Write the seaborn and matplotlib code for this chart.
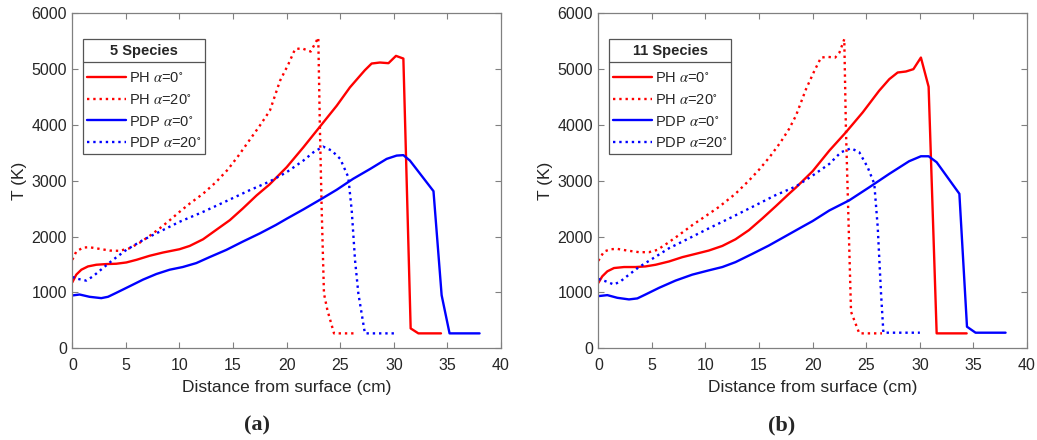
import matplotlib
matplotlib.use("Agg")
import matplotlib.pyplot as plt
import seaborn as sns
from matplotlib.lines import Line2D

# ---- panel (a): 5 species ----
a_ph0_x = [0, 0.37, 0.84, 1.46, 2.24, 3.17, 4.1, 5.04, 6.0, 7.2, 8.46, 10.0, 10.95, 12.2, 13.4,
           14.7, 15.9, 17.2, 18.4, 20.0, 21.56, 23.1, 24.67, 25.9, 26.84, 27.3, 27.93, 28.7,
           29.5, 30.2, 30.89, 31.57, 32.29, 34.4]
a_ph0_t = [1183, 1320, 1408, 1467, 1497, 1509, 1515, 1538, 1586, 1657, 1716, 1775, 1834, 1953, 2118,
           2296, 2503, 2740, 2935, 3244, 3601, 3970, 4345, 4673, 4881, 4982, 5101, 5119,
           5107, 5238, 5190, 357, 268, 268]

a_ph20_x = [0, 0.37, 1.0, 1.6, 2.55, 3.5, 4.4, 5.35, 6.3, 7.2, 8.15, 9.1, 10.0, 10.95, 12.2, 13.4,
            14.5, 15.5, 16.5, 17.5, 18.44, 19.38, 20.16, 20.78, 21.4, 22.24, 22.95, 23.1, 23.27,
            23.48, 23.8, 24.42, 26.38]
a_ph20_t = [1586, 1734, 1805, 1811, 1781, 1751, 1746, 1793, 1893, 2012, 2148, 2296, 2444, 2592, 2769, 2976,
            3200, 3450, 3720, 3990, 4260, 4792, 5089, 5357, 5375, 5315, 5565, 3958, 2470,
            982, 685, 268, 268]

a_pdp0_x = [0, 0.68, 1.6, 2.7, 3.33, 4.1, 5.35, 6.6, 7.84, 9.08, 10.3, 11.57, 12.8, 14.37, 15.9,
            17.5, 19.0, 20.0, 21.56, 23.27, 24.67, 26.2, 27.8, 29.33, 30.26, 30.89, 31.5, 33.7,
            34.46, 35.2, 38.0]
a_pdp0_t = [947, 964, 923, 899, 923, 994, 1112, 1231, 1331, 1408, 1456, 1527, 1633, 1763, 1911,
            2059, 2210, 2321, 2488, 2679, 2840, 3036, 3214, 3393, 3452, 3460, 3363, 2815,
            952, 268, 268]

a_pdp20_x = [0, 0.53, 1.3, 1.93, 2.86, 3.8, 5.04, 6.6, 8.15, 10.0, 12.2, 14.4, 16.5, 18.44, 20.0,
             21.56, 22.5, 23.4, 24.2, 25.0, 25.75, 26.07, 26.38, 26.69, 27.3, 30.1]
a_pdp20_t = [1278, 1243, 1213, 1290, 1438, 1586, 1763, 1941, 2089, 2266, 2444, 2639, 2828, 2990, 3155,
             3363, 3512, 3613, 3542, 3393, 3066, 2470, 1577, 982, 268, 268]

# ---- panel (b): 11 species ----
b_ph0_x = [0, 0.37, 0.84, 1.46, 2.4, 3.48, 4.4, 5.35, 6.6, 7.84, 9.08, 10.3, 11.57, 12.8, 14.06,
           15.3, 16.55, 17.8, 18.44, 20.0, 21.56, 23.1, 24.67, 26.2, 27.15, 27.93, 28.7, 29.4,
           30.1, 30.82, 31.57, 34.37]
b_ph0_t = [1172, 1290, 1379, 1438, 1456, 1456, 1467, 1497, 1556, 1633, 1692, 1751, 1834, 1953, 2118,
           2325, 2544, 2769, 2880, 3173, 3542, 3869, 4226, 4613, 4821, 4940, 4958, 5000,
           5208, 4685, 268, 268]

b_ph20_x = [0, 0.53, 1.15, 1.77, 2.7, 3.8, 4.73, 5.5, 6.44, 7.53, 8.77, 10.0, 11.26, 12.8, 14.06,
            15.0, 16.0, 17.0, 17.8, 18.44, 19.38, 20.16, 20.78, 21.4, 22.1, 22.5, 22.95, 23.1,
            23.36, 23.58, 24.35, 26.47]
b_ph20_t = [1568, 1734, 1775, 1781, 1751, 1722, 1722, 1763, 1882, 2030, 2207, 2367, 2533, 2769, 3006,
            3200, 3430, 3690, 3930, 4167, 4643, 4970, 5208, 5220, 5208, 5298, 5536, 3958,
            2173, 655, 268, 268]

b_pdp0_x = [0, 0.84, 1.77, 2.86, 3.64, 4.4, 5.66, 7.2, 8.77, 10.3, 11.57, 12.8, 14.37, 15.9, 17.5,
            19.04, 20.0, 21.56, 23.4, 25.3, 27.15, 29.0, 30.1, 30.82, 31.57, 33.69, 34.4, 35.2, 38.0]
b_pdp0_t = [935, 953, 905, 876, 894, 964, 1083, 1213, 1320, 1396, 1456, 1544, 1692, 1840, 2012,
            2178, 2280, 2470, 2649, 2887, 3125, 3351, 3440, 3440, 3333, 2768, 387, 280, 280]

b_pdp20_x = [0, 0.68, 1.46, 2.08, 2.86, 3.8, 5.04, 6.6, 8.46, 10.3, 12.2, 14.37, 16.5, 18.44, 20.0,
             21.56, 22.64, 23.58, 24.35, 25.13, 25.75, 26.07, 26.38, 26.6, 30.0]
b_pdp20_t = [1243, 1201, 1142, 1201, 1320, 1456, 1604, 1793, 1970, 2148, 2325, 2533, 2740, 2900, 3095,
             3304, 3512, 3583, 3512, 3244, 2947, 2173, 982, 280, 280]

labels = [r"PH $\alpha$=0$^{\circ}$", r"PH $\alpha$=20$^{\circ}$",
          r"PDP $\alpha$=0$^{\circ}$", r"PDP $\alpha$=20$^{\circ}$"]
x_ticks = [0, 5, 10, 15, 20, 25, 30, 35, 40]
y_ticks = [0, 1000, 2000, 3000, 4000, 5000, 6000]

RED = "#ff0000"
BLUE = "#0000ff"
TXT = "#262626"
EDGE = "#808080"

sns.set_style("ticks")
plt.rcParams["font.family"] = ["Liberation Sans", "DejaVu Sans"]
plt.rcParams["mathtext.fontset"] = "stix"

fig = plt.figure(figsize=(10.37, 4.40), dpi=100)
W, H = 1037.0, 440.0
ax_a = fig.add_axes([72.33 / W, 91.67 / H, 428.67 / W, 335 / H])
ax_b = fig.add_axes([598.33 / W, 91.67 / H, 428.67 / W, 335 / H])


def draw_panel(ax, curves, title):
    styles = [(RED, "-"), (RED, ":"), (BLUE, "-"), (BLUE, ":")]
    for (x, t), lab, (col, ls) in zip(curves, labels, styles):
        sns.lineplot(x=x, y=t, ax=ax, color=col, linestyle=ls, linewidth=1.7,
                     estimator=None, sort=False, label=lab)
    ax.set_xlim(0, 40)
    ax.set_ylim(0, 6000)
    ax.set_xticks(x_ticks)
    ax.set_yticks(y_ticks)
    ax.tick_params(direction="in", top=True, right=True, length=4, width=0.8,
                   color=EDGE, labelcolor=TXT, labelsize=11.5)
    ax.tick_params(axis="x", pad=7)
    ax.tick_params(axis="y", pad=4)
    for sp in ax.spines.values():
        sp.set_color(EDGE)
        sp.set_linewidth(0.9)
    ax.set_xlabel("Distance from surface (cm)", fontsize=12.5, color=TXT, labelpad=5)
    ax.set_ylabel("T (K)", fontsize=12.5, color=TXT, labelpad=3)
    leg = ax.legend(title=title, loc="upper left", bbox_to_anchor=(0.024, 0.922),
                    borderaxespad=0, frameon=True, fancybox=False, framealpha=1,
                    edgecolor="#555555", fontsize=10.5, handlelength=2.7,
                    handletextpad=0.2, labelspacing=0.52, borderpad=0.28,
                    title_fontproperties={"weight": "bold", "size": 10.5})
    # more room between title and entries, like the MATLAB title bar
    leg._legend_box.sep = 10
    leg.get_frame().set_linewidth(0.9)
    for t in leg.get_texts():
        t.set_color(TXT)
    return leg


leg_a = draw_panel(ax_a, [(a_ph0_x, a_ph0_t), (a_ph20_x, a_ph20_t),
                          (a_pdp0_x, a_pdp0_t), (a_pdp20_x, a_pdp20_t)], "5 Species")
leg_b = draw_panel(ax_b, [(b_ph0_x, b_ph0_t), (b_ph20_x, b_ph20_t),
                          (b_pdp0_x, b_pdp0_t), (b_pdp20_x, b_pdp20_t)], "11 Species")

# separator line under the legend title (MATLAB style)
fig.canvas.draw()
for leg in (leg_a, leg_b):
    fb = leg.get_frame().get_window_extent()
    tb = leg.get_title().get_window_extent()
    y = (tb.y0 - 4) / fig.bbox.height
    fig.add_artist(Line2D([fb.x0 / fig.bbox.width, fb.x1 / fig.bbox.width], [y, y],
                          transform=fig.transFigure, color="#555555", linewidth=0.9))

fig.text(257 / W, 0.032, "(a)", ha="center", va="center", fontsize=16,
         fontweight="bold", family="Liberation Serif")
fig.text(782 / W, 0.032, "(b)", ha="center", va="center", fontsize=16,
         fontweight="bold", family="Liberation Serif")

fig.savefig("out.png", dpi=100)
